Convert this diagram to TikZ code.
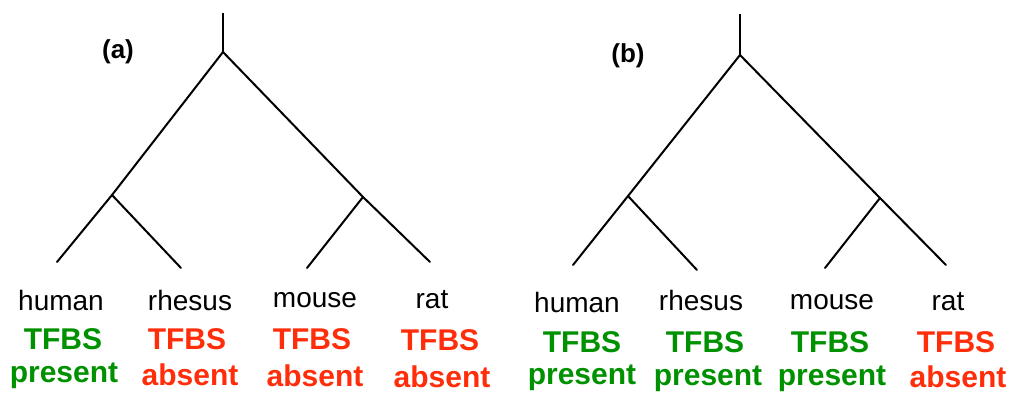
\documentclass[tikz,border=0pt]{standalone}
\usepackage{fontspec}
\setmainfont{Liberation Sans}
\definecolor{tgreen}{RGB}{0,145,0}
\definecolor{tred}{RGB}{255,45,10}
\begin{document}
\begin{tikzpicture}[x=1pt,y=-1pt,
  branch/.style={line width=2pt, line cap=round},
  stem/.style={line width=2.8pt},
  species/.style={font=\fontsize{28}{30}\selectfont, inner sep=0pt, anchor=center},
  pres/.style={font=\fontsize{30}{32}\selectfont\bfseries, inner sep=0pt, anchor=center, text=tgreen},
  abs/.style={font=\fontsize{30}{32}\selectfont\bfseries, inner sep=0pt, anchor=center, text=tred},
  panel/.style={font=\fontsize{26}{28}\selectfont\bfseries, inner sep=0pt, anchor=center}]
\useasboundingbox (0,0) rectangle (1013,394);
% ---------- tree (a)
\coordinate (aTop) at (223,13);
\coordinate (aR) at (223,52);
\coordinate (aL1) at (112,195);
\coordinate (aL2) at (363,197);
\coordinate (ahu) at (57,262);
\coordinate (arh) at (181,268);
\coordinate (amo) at (307,268);
\coordinate (ara) at (430,262);
\draw[stem] (aTop) -- (aR);
\draw[branch] (aR) -- (aL1) -- (ahu);
\draw[branch] (aL1) -- (arh);
\draw[branch] (aR) -- (aL2) -- (ara);
\draw[branch] (aL2) -- (amo);
\node[panel] (alab) at (118,52) {(a)};
\node[species] (ahuN) at (61,300) {human};
\node[species] (arhN) at (190,300) {rhesus};
\node[species] (amoN) at (315,300) {mouse};
\node[species] (araN) at (432,300) {rat};
\node[pres] (ahuT) at (63,339) {TFBS};
\node[abs] (arhT) at (187,339) {TFBS};
\node[abs] (amoT) at (312,339) {TFBS};
\node[abs] (araT) at (440,340) {TFBS};
\node[pres] (ahuS) at (64,376) {present};
\node[abs] (arhS) at (190,375) {absent};
\node[abs] (amoS) at (315,376) {absent};
\node[abs] (araS) at (442,377) {absent};
% ---------- tree (b)
\coordinate (bTop) at (740,14);
\coordinate (bR) at (740,55);
\coordinate (bL1) at (628,196);
\coordinate (bL2) at (880,198);
\coordinate (bhu) at (573,265);
\coordinate (brh) at (697,270);
\coordinate (bmo) at (825,268);
\coordinate (bra) at (946,265);
\draw[stem] (bTop) -- (bR);
\draw[branch] (bR) -- (bL1) -- (bhu);
\draw[branch] (bL1) -- (brh);
\draw[branch] (bR) -- (bL2) -- (bra);
\draw[branch] (bL2) -- (bmo);
\node[panel] (blab) at (628,56) {(b)};
\node[species] (bhuN) at (577,302) {human};
\node[species] (brhN) at (701,300) {rhesus};
\node[species] (bmoN) at (832,302) {mouse};
\node[species] (braN) at (948,302) {rat};
\node[pres] (bhuT) at (582,342) {TFBS};
\node[pres] (brhT) at (705,342) {TFBS};
\node[pres] (bmoT) at (830,342) {TFBS};
\node[abs] (braT) at (956,342) {TFBS};
\node[pres] (bhuS) at (582,378) {present};
\node[pres] (brhS) at (708,379) {present};
\node[pres] (bmoS) at (832,379) {present};
\node[abs] (braS) at (958,377) {absent};
\end{tikzpicture}
\end{document}
